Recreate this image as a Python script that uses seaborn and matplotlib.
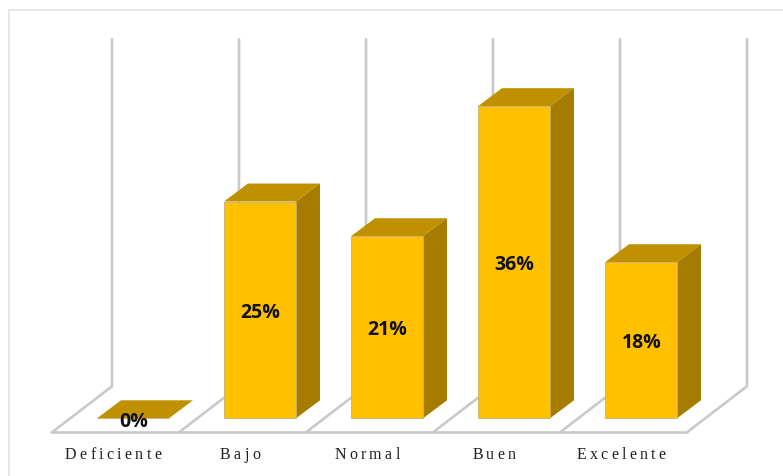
import matplotlib
matplotlib.use("Agg")
import matplotlib.pyplot as plt
import matplotlib.text as mtext
from matplotlib.patches import Polygon
from matplotlib.transforms import Bbox
import pandas as pd
import seaborn as sns

# Data
categories = ["Deficiente", "Bajo", "Normal", "Buen", "Excelente"]
values = [0, 25, 21, 36, 18]
value_labels = ["0%", "25%", "21%", "36%", "18%"]

# Colours
FRONT = "#FFC000"
TOP = "#BF9000"
SIDE = "#A67C00"
GRID = "#C9C9C9"
BORDER = "#E6E6E6"
TEXT = "#1F1F1F"

# Scale: pixels of the 783x477 image per data unit
W, H = 783, 477
PX_X = 127.0          # per category
PX_Y = 8.67           # per percentage point
X0_PX = 133.0         # pixel of category 0
Y0_PX = 418.0         # pixel of value 0
Y_SHIFT = 1.3         # raster alignment
BAR_W = 72 / PX_X
DX = 24 / PX_X        # 3D depth
DY = 18 / PX_Y
BACK_X = (112 - X0_PX) / PX_X
FRONT_X = (52 - X0_PX) / PX_X
BACK_Y = (Y0_PX - 386) / PX_Y
FRONT_Y = (Y0_PX - 432) / PX_Y
WALL_TOP = (Y0_PX - 39) / PX_Y
LABEL_Y = (Y0_PX - 457.5) / PX_Y
LABEL_DX = -20 / PX_X


class TrackedText(mtext.Text):
    """Real text drawn with extra letter spacing, as in the reference."""
    gap_px = 3.3

    def draw(self, renderer):
        x, y = self.get_transform().transform(self.get_position())
        prop = self.get_fontproperties()
        word = self.get_text()
        widths = [renderer.get_text_width_height_descent(c, prop, False)[0] for c in word]
        total = sum(widths) + self.gap_px * (len(word) - 1)
        gc = renderer.new_gc()
        gc.set_foreground(self.get_color())
        px = x - total / 2
        for c, w in zip(word, widths):
            renderer.draw_text(gc, px, renderer.height - y, c, prop, 0)
            px += w + self.gap_px
        gc.restore()

    def get_window_extent(self, renderer=None, dpi=None):
        b = super().get_window_extent(renderer, dpi)
        e = self.gap_px * (len(self.get_text()) - 1) / 2
        return Bbox.from_extents(b.x0 - e, b.y0, b.x1 + e, b.y1)


sns.set_theme(style="white")
fig = plt.figure(figsize=(W / 100, H / 100), dpi=100, facecolor="white")
ax = fig.add_axes([0, 0, 1, 1])

df = pd.DataFrame({"categoria": categories, "valor": values})
sns.barplot(data=df, x="categoria", y="valor", color=FRONT, saturation=1,
            width=BAR_W, edgecolor="#C8B070", linewidth=0.6, ax=ax, zorder=4)

ax.set_xlim(-X0_PX / PX_X, (W - X0_PX) / PX_X)
ax.set_ylim((Y0_PX + Y_SHIFT - H) / PX_Y, (Y0_PX + Y_SHIFT) / PX_Y)
ax.axis("off")

# Outer chart border (top and left only are visible)
ax.plot([1, 9 / W, 9 / W], [1 - 10.5 / H, 1 - 10.5 / H, 0], transform=ax.transAxes,
        color=BORDER, lw=1.4, clip_on=False, zorder=1)

# Back walls and floor
n = len(categories)
for k in range(n + 1):
    ax.plot([k + FRONT_X, k + BACK_X, k + BACK_X], [FRONT_Y, BACK_Y, WALL_TOP],
            color=GRID, lw=1.9, solid_joinstyle="miter", solid_capstyle="round", zorder=2)
ax.plot([FRONT_X - 0.01, n + FRONT_X], [FRONT_Y, FRONT_Y], color=GRID, lw=1.9, zorder=2)

# Depth faces of each bar, derived from the values
for i, v in enumerate(values):
    l, r = i - BAR_W / 2, i + BAR_W / 2
    ax.add_patch(Polygon([(l, v), (r, v), (r + DX, v + DY), (l + DX, v + DY)],
                         closed=True, fc=TOP, ec="none", zorder=3))
    if v > 0:
        ax.add_patch(Polygon([(r, 0), (r + DX, DY), (r + DX, v + DY), (r, v)],
                             closed=True, fc=SIDE, ec="none", zorder=3))

# Value labels
for i, (v, lab) in enumerate(zip(values, value_labels)):
    ax.annotate(lab, (i, v / 2), xytext=(0.5, -1.5 if v > 0 else -2), textcoords="offset points",
                ha="center", va="center", fontsize=14, fontweight="bold",
                family="Open Sans", color="#111111", zorder=6)

# Category labels with wide letter spacing
for i, name in enumerate(categories):
    t = TrackedText(i + LABEL_DX, LABEL_Y, name, ha="center", va="baseline",
                    family="Liberation Serif", fontsize=11.5, color=TEXT,
                    transform=ax.transData, zorder=6)
    ax.add_artist(t)

fig.savefig("out.png", dpi=100, facecolor="white")
